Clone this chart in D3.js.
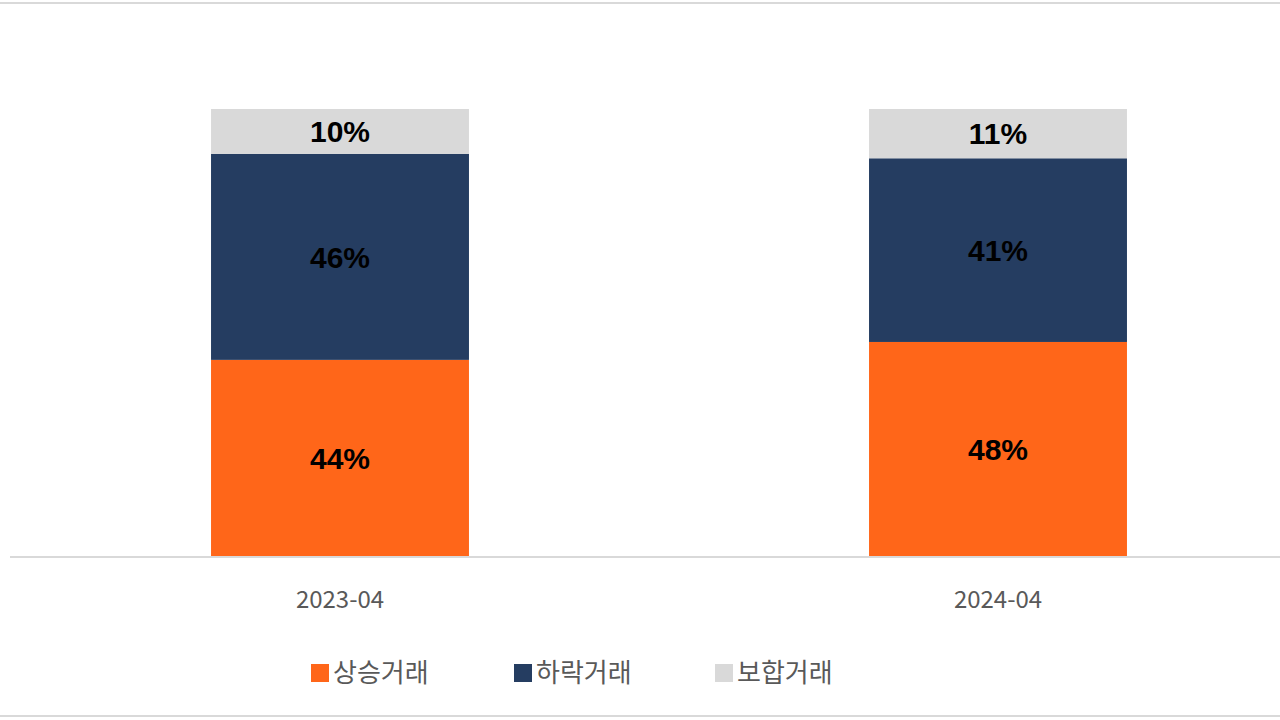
<!DOCTYPE html>
<html>
<head>
<meta charset="utf-8">
<script src="https://cdn.jsdelivr.net/npm/d3@7"></script>
<style>
  body { margin: 0; background: #fff; }
</style>
</head>
<body>
<div id="wrapper"></div>
<script>
const categories = ["2023-04", "2024-04"];
const seriesNames = ["상승거래", "하락거래", "보합거래"];
const upValues = [44, 48];
const downValues = [46, 41];
const flatValues = [10, 11];
const colors = ["#FF6619", "#253D61", "#D9D9D9"];

const width = 1280, height = 720;
const baseline = 557, top100 = 109;

const svg = d3.select("#wrapper").append("svg")
  .attr("width", width).attr("height", height);

// frame lines
svg.append("line").attr("x1", 0).attr("x2", width).attr("y1", 3).attr("y2", 3)
  .attr("stroke", "#d9d9d9").attr("stroke-width", 2);
svg.append("line").attr("x1", 0).attr("x2", width).attr("y1", 716).attr("y2", 716)
  .attr("stroke", "#d9d9d9").attr("stroke-width", 2);

const dataset = categories.map((c, i) => ({
  cat: c, up: upValues[i], down: downValues[i], flat: flatValues[i]
}));
const keys = ["up", "down", "flat"];
const stacked = d3.stack().keys(keys)(dataset);

const xScale = d3.scaleBand().domain(categories).range([11, 1327])
  .paddingInner(0.608).paddingOuter(0.304);
const yScale = d3.scaleLinear().domain([0, 100]).range([baseline, top100]);

const layers = svg.selectAll("g.layer").data(stacked).join("g")
  .attr("class", "layer").attr("fill", (d, i) => colors[i]);

layers.selectAll("rect").data(d => d).join("rect")
  .attr("x", d => xScale(d.data.cat))
  .attr("width", xScale.bandwidth())
  .attr("y", d => yScale(d[1]))
  .attr("height", d => yScale(d[0]) - yScale(d[1]));

layers.selectAll("text").data(d => d).join("text")
  .attr("x", d => xScale(d.data.cat) + xScale.bandwidth() / 2)
  .attr("y", d => (yScale(d[0]) + yScale(d[1])) / 2)
  .attr("dy", "0.36em")
  .attr("text-anchor", "middle")
  .attr("fill", "#000")
  .style("font-family", "Liberation Sans, Arial, sans-serif")
  .style("font-weight", "bold")
  .style("font-size", "30px")
  .text(d => (d[1] - d[0]) + "%");

// baseline axis
const xAxis = svg.append("g")
  .attr("transform", `translate(0,${baseline})`)
  .call(d3.axisBottom(xScale).tickSize(0).tickPadding(34));
xAxis.select(".domain").attr("d", `M10,0H${width}`).attr("stroke", "#d9d9d9").attr("stroke-width", 2);
xAxis.selectAll("text")
  .attr("fill", "#595959")
  .style("font-family", "Noto Sans CJK KR, Noto Sans, sans-serif")
  .style("font-size", "24px");

// legend
const legendX = [311, 514, 715];
const legend = svg.selectAll("g.legend").data(seriesNames).join("g")
  .attr("class", "legend")
  .attr("transform", (d, i) => `translate(${legendX[i]},673)`);
legend.append("rect").attr("x", 0).attr("y", -9).attr("width", 18).attr("height", 18)
  .attr("fill", (d, i) => colors[i]);
legend.append("text").attr("x", 22).attr("dy", "0.36em")
  .attr("fill", "#595959")
  .style("font-family", "Noto Sans CJK KR, sans-serif")
  .style("font-size", "26px")
  .text(d => d);
</script>
</body>
</html>
